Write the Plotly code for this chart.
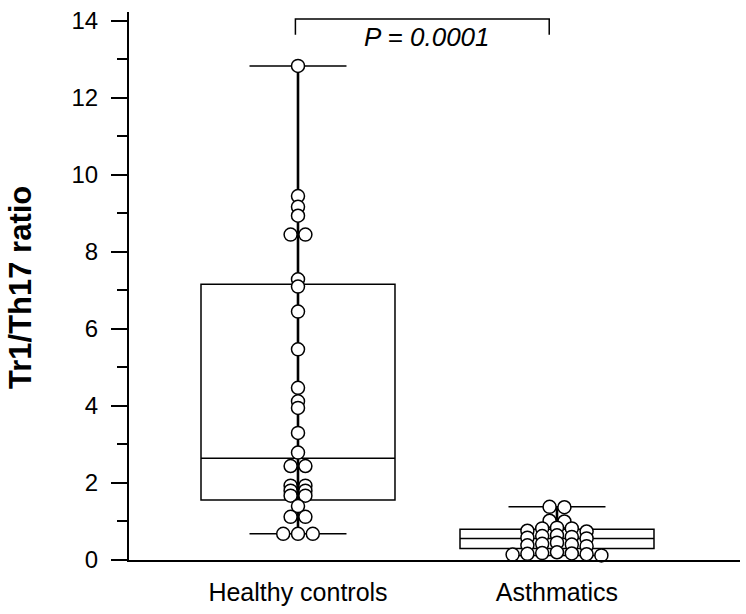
import plotly.graph_objects as go

# ---------------- data ----------------
categories = ["Healthy controls", "Asthmatics"]

healthy_values = [12.83, 9.45, 9.17, 8.94, 8.45, 8.45, 7.29, 7.10, 6.45, 5.47,
                  4.47, 4.12, 3.95, 3.30, 2.79, 2.44, 2.44, 1.93, 1.93, 1.80,
                  1.80, 1.67, 1.67, 1.40, 1.12, 1.12, 0.68, 0.68, 0.68]
asthmatic_values = [1.37, 1.38, 1.00, 1.02, 0.84, 0.82, 0.82, 0.76, 0.74,
                    0.64, 0.62, 0.60, 0.58, 0.56, 0.45, 0.42, 0.40, 0.38, 0.36,
                    0.20, 0.18, 0.17, 0.16, 0.15, 0.14, 0.12]

# box summaries (q1, median, q3, lower whisker, upper whisker)
healthy_box = dict(q1=1.56, median=2.64, q3=7.16, low=0.68, high=12.83)
asthmatic_box = dict(q1=0.30, median=0.56, q3=0.80, low=0.12, high=1.38)

p_text = "P = 0.0001"
y_title = "Tr1/Th17 ratio"
y_ticks = [0, 2, 4, 6, 8, 10, 12, 14]

# ---------------- layout geometry ----------------
W, H = 746, 614
ML, MR, MT, MB = 129, 6, 12, 54
X_RANGE = [-0.6525, 1.7066]
Y_RANGE = [0, 14.23]
px_per_x = (W - ML - MR) / (X_RANGE[1] - X_RANGE[0])
DOT_SPACING_PX = 14.8
BIN_WIDTH = 0.12


def dot_offsets(values, center):
    """Binned dot plot: values in the same bin are spread symmetrically."""
    order = sorted(range(len(values)), key=lambda i: values[i])
    bins, cur, start = [], [], None
    for i in order:
        v = values[i]
        if start is None or v - start >= BIN_WIDTH:
            if cur:
                bins.append(cur)
            cur, start = [i], v
        else:
            cur.append(i)
    if cur:
        bins.append(cur)
    xs = [center] * len(values)
    step = DOT_SPACING_PX / px_per_x
    for b in bins:
        n = len(b)
        slots = [(k - (n - 1) / 2) * step for k in range(n)]
        slots.sort(key=lambda s: (abs(s), s))
        members = sorted(b, key=lambda i: -values[i])
        for i, s in zip(members, slots):
            xs[i] = center + s
    return xs


fig = go.Figure()

groups = [(0, healthy_values, healthy_box), (1, asthmatic_values, asthmatic_box)]

for pos, vals, bx in groups:
    fig.add_trace(go.Box(
        x=[pos], q1=[bx["q1"]], median=[bx["median"]], q3=[bx["q3"]],
        lowerfence=[bx["low"]], upperfence=[bx["high"]],
        width=0.749, whiskerwidth=0.5, boxpoints=False,
        fillcolor="rgba(0,0,0,0)", line=dict(color="black", width=1.5),
        showlegend=False, hoverinfo="skip"))
    fig.add_trace(go.Scatter(
        x=[pos, pos], y=[bx["low"], bx["high"]], mode="lines",
        line=dict(color="black", width=2.6), showlegend=False, hoverinfo="skip"))

for pos, vals, bx in groups:
    fig.add_trace(go.Scatter(
        x=dot_offsets(vals, pos), y=vals, mode="markers",
        marker=dict(size=13, color="white", line=dict(color="black", width=1.5)),
        showlegend=False, cliponaxis=False))

# significance bracket
fig.add_shape(type="path", xref="x", yref="y",
              path="M -0.01,13.64 L -0.01,14.05 L 0.97,14.05 L 0.97,13.64",
              line=dict(color="black", width=1.5))
fig.add_annotation(x=0.5, y=13.58, xref="x", yref="y", text="<i>" + p_text + "</i>",
                   showarrow=False, font=dict(size=26, color="black"),
                   xanchor="center", yanchor="middle")

fig.add_annotation(x=(21 - ML) / (W - ML - MR), y=(H - MB - 288) / (H - MT - MB),
                   xref="paper", yref="paper", text="<b>" + y_title + "</b>",
                   textangle=-90, showarrow=False,
                   font=dict(size=31, color="black"),
                   xanchor="center", yanchor="middle")

fig.update_layout(
    template="none",
    width=W, height=H,
    margin=dict(l=ML, r=MR, t=MT, b=MB, autoexpand=False),
    paper_bgcolor="white", plot_bgcolor="white",
    font=dict(family="Liberation Sans, Arial, sans-serif", color="black"),
    xaxis=dict(range=X_RANGE, tickvals=[0, 1], ticktext=categories,
               showline=True, linecolor="black", linewidth=2.2,
               showgrid=False, zeroline=False, ticks="", automargin=False,
               tickfont=dict(size=25), ticklabelstandoff=9),
    yaxis=dict(range=Y_RANGE, tickvals=y_ticks,
               showline=True, linecolor="black", linewidth=2.2,
               showgrid=False, zeroline=False, automargin=False,
               ticks="outside", ticklen=16, tickwidth=2, tickcolor="black",
               minor=dict(dtick=1, ticks="outside", ticklen=10, tickwidth=2,
                          tickcolor="black", showgrid=False),
               tickfont=dict(size=24), ticklabelstandoff=8),
)

fig.write_html("out.html",
               config={"displayModeBar": False},
               post_script="document.body.style.margin='0px';"
                           "document.body.style.overflow='hidden';")
